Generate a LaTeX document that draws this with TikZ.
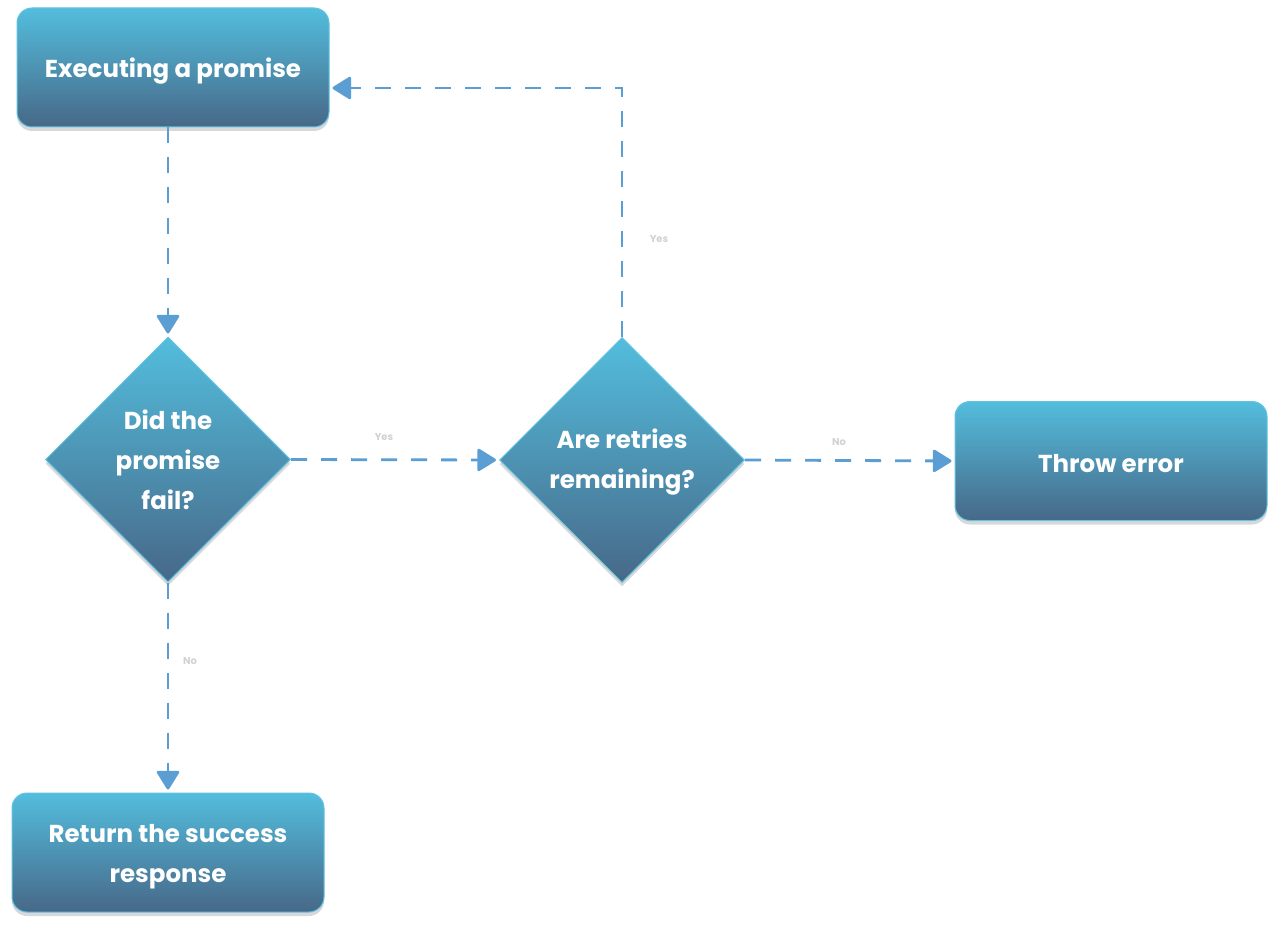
\documentclass[tikz,border=0pt]{standalone}
\usepackage{fontspec}
\setmainfont{Poppins}
\usetikzlibrary{arrows.meta,shapes.geometric,shadows}
\definecolor{topc}{HTML}{53BDDD}
\definecolor{botc}{HTML}{476888}
\definecolor{edgec}{HTML}{62C3E2}
\definecolor{linec}{HTML}{5A9ED3}
\definecolor{lblc}{HTML}{D2D2D2}
\tikzset{
  shapebase/.style={top color=topc, bottom color=botc, draw=edgec, line width=1pt,
    drop shadow={opacity=0.3, shadow xshift=0pt, shadow yshift=-4pt}},
  boxnode/.style={shapebase, rounded corners=15pt, minimum width=312pt, minimum height=119pt},
  decnode/.style={shapebase, diamond, aspect=1, inner sep=0pt, minimum width=245pt, minimum height=245pt},
  txt/.style={text=white, font=\fontsize{24.5}{40}\selectfont\bfseries, align=center},
  conn/.style={draw=linec, line width=2.8pt, dash pattern=on 16pt off 14pt,
    -{Triangle[length=20pt,width=24pt,round]}, shorten >=3pt},
  lbl/.style={text=lblc, font=\fontsize{10}{11}\selectfont\bfseries}
}
\begin{document}
\begin{tikzpicture}[x=1pt,y=-1pt]
\useasboundingbox[fill=white] (0,0) rectangle (1279,928);
\node[boxnode] (exec) at (173,67.5) {};
\node[decnode] (fail) at (168,459.5) {};
\node[decnode] (retry) at (622,460) {};
\node[boxnode] (throw) at (1111,461) {};
\node[boxnode] (ret) at (168,852.5) {};
\node[txt] (exect) at ([yshift=-4pt]exec.center) {Executing a promise};
\node[txt] (failt) at ([yshift=0pt]fail.center) {Did the\\promise\\fail?};
\node[txt] (retryt) at ([yshift=-2.5pt]retry.center) {Are retries\\remaining?};
\node[txt] (throwt) at ([yshift=-2.5pt]throw.center) {Throw error};
\node[txt] (rett) at ([yshift=-4pt]ret.center) {Return the success\\response};
\coordinate (corner) at (622,88);
\draw[conn] (exec.south -| fail.north) -- (fail.north);
\draw[conn] (fail.east) -- (retry.west);
\draw[conn] (retry.east) -- (throw.west);
\draw[conn] (fail.south) -- (ret.north);
\draw[conn] (retry.north) -- (corner) -- (corner -| exec.east);
\node[lbl] (l1) at (384,437) {Yes};
\node[lbl] (l2) at (839,442) {No};
\node[lbl] (l3) at (659,239) {Yes};
\node[lbl] (l4) at (190,661) {No};
\end{tikzpicture}
\end{document}
